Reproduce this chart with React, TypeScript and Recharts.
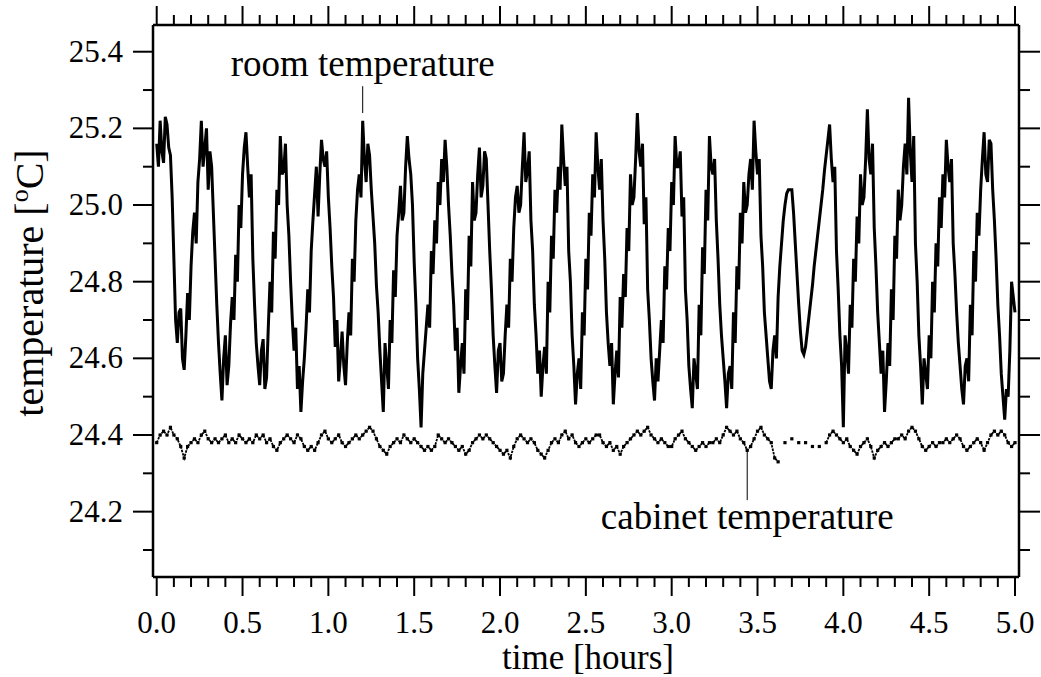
import React from 'react';
import { LineChart, Line, XAxis, YAxis, ReferenceLine, ReferenceDot } from 'recharts';

const SERIF = "'Liberation Serif', 'Times New Roman', Times, serif";

// sampling intervals of the two records, hours
const ROOM_STEP = 0.01;
const CABINET_STEP = 0.02;

// room temperature [°C], one value every 0.01 h (ten values per line)
const ROOM = [
  25.16, 25.10, 25.22, 25.14, 25.11, 25.23, 25.21, 25.15, 25.13, 25.02,
  24.86, 24.70, 24.64, 24.72, 24.73, 24.60, 24.57, 24.66, 24.77, 24.70,
  24.84, 24.93, 24.98, 24.90, 25.06, 25.12, 25.22, 25.10, 25.15, 25.20,
  25.04, 25.14, 25.10, 24.98, 24.86, 24.74, 24.64, 24.56, 24.49, 24.60,
  24.66, 24.53, 24.58, 24.69, 24.76, 24.70, 24.87, 24.80, 25.00, 24.94,
  25.08, 25.15, 25.19, 25.10, 25.02, 25.08, 24.86, 24.74, 24.64, 24.58,
  24.53, 24.62, 24.65, 24.52, 24.55, 24.68, 24.80, 24.72, 24.93, 24.86,
  25.04, 25.00, 25.18, 25.08, 25.09, 25.16, 25.00, 24.92, 24.80, 24.70,
  24.62, 24.68, 24.52, 24.58, 24.46, 24.54, 24.60, 24.68, 24.78, 24.72,
  24.88, 24.96, 25.03, 25.10, 24.97, 25.08, 25.17, 25.12, 25.10, 25.14,
  25.02, 24.94, 24.84, 24.76, 24.63, 24.70, 24.54, 24.60, 24.67, 24.58,
  24.53, 24.64, 24.72, 24.66, 24.86, 24.80, 24.96, 25.04, 25.08, 25.02,
  25.22, 25.12, 25.06, 25.16, 25.13, 25.04, 24.97, 24.90, 24.79, 24.72,
  24.62, 24.54, 24.46, 24.64, 24.58, 24.52, 24.70, 24.64, 24.83, 24.76,
  24.92, 24.98, 25.05, 24.96, 24.98, 25.10, 25.18, 25.12, 25.08, 25.00,
  24.85, 24.74, 24.60, 24.52, 24.42, 24.56, 24.62, 24.68, 24.74, 24.68,
  24.88, 24.82, 24.96, 24.90, 25.06, 25.00, 25.12, 25.06, 25.17, 25.10,
  25.00, 24.92, 24.82, 24.74, 24.62, 24.68, 24.51, 24.58, 24.64, 24.56,
  24.78, 24.70, 24.92, 24.84, 25.06, 24.96, 24.98, 25.08, 25.15, 25.02,
  25.05, 25.14, 25.12, 25.00, 24.88, 24.78, 24.66, 24.58, 24.51, 24.62,
  24.64, 24.54, 24.56, 24.66, 24.74, 24.68, 24.86, 24.80, 24.94, 25.02,
  25.05, 24.98, 25.00, 25.10, 25.19, 25.06, 25.09, 25.14, 24.96, 24.88,
  24.74, 24.66, 24.56, 24.62, 24.50, 24.58, 24.63, 24.56, 24.80, 24.72,
  24.92, 24.86, 25.04, 24.98, 25.10, 25.04, 25.21, 25.12, 25.05, 25.10,
  24.88, 24.80, 24.66, 24.58, 24.48, 24.56, 24.60, 24.52, 24.72, 24.66,
  24.86, 24.78, 24.98, 24.92, 25.08, 25.02, 25.19, 25.10, 25.04, 25.12,
  24.96, 24.86, 24.72, 24.64, 24.58, 24.64, 24.48, 24.56, 24.62, 24.55,
  24.76, 24.68, 24.82, 24.76, 24.94, 24.88, 25.08, 25.00, 25.02, 25.12,
  25.24, 25.14, 25.10, 25.16, 24.95, 25.02, 24.78, 24.70, 24.60, 24.54,
  24.49, 24.60, 24.54, 24.62, 24.70, 24.64, 24.84, 24.78, 24.94, 24.88,
  25.06, 25.00, 25.18, 25.10, 25.10, 25.14, 24.97, 25.02, 24.78, 24.70,
  24.58, 24.52, 24.47, 24.60, 24.56, 24.52, 24.74, 24.66, 24.89, 24.82,
  25.04, 24.96, 25.18, 25.10, 25.08, 25.12, 24.96, 24.86, 24.74, 24.66,
  24.60, 24.54, 24.47, 24.56, 24.58, 24.52, 24.72, 24.64, 24.84, 24.78,
  24.98, 24.90, 25.06, 24.98, 25.00, 25.08, 25.12, 25.04, 25.22, 25.14,
  25.08, 25.12, 24.92, 24.84, 24.72, 24.66, 24.60, 24.54, 24.52, 24.62,
  24.66, 24.60, 24.76, 24.84, 24.90, 24.96, 25.00, 25.03, 25.04, 25.04,
  25.04, 24.98, 24.90, 24.82, 24.74, 24.67, 24.62, 24.61, 24.63, 24.67,
  24.71, 24.75, 24.79, 24.84, 24.88, 24.92, 24.96, 25.00, 25.04, 25.09,
  25.13, 25.17, 25.21, 25.12, 25.06, 25.10, 24.88, 24.78, 24.66, 24.58,
  24.42, 24.66, 24.62, 24.56, 24.74, 24.68, 24.86, 24.80, 24.97, 24.90,
  25.08, 25.00, 25.02, 25.12, 25.25, 25.12, 25.08, 25.16, 24.94, 24.84,
  24.72, 24.64, 24.56, 24.62, 24.46, 24.54, 24.64, 24.58, 24.78, 24.70,
  24.92, 24.86, 25.04, 24.96, 25.00, 25.10, 25.16, 25.08, 25.28, 25.14,
  25.06, 25.18, 24.90, 24.80, 24.66, 24.58, 24.48, 24.60, 24.56, 24.52,
  24.66, 24.60, 24.80, 24.72, 24.90, 24.84, 25.02, 24.94, 25.08, 25.02,
  25.17, 25.10, 25.06, 25.12, 24.90, 24.82, 24.72, 24.64, 24.58, 24.52,
  24.48, 24.58, 24.60, 24.54, 24.74, 24.66, 24.88, 24.80, 24.98, 24.92,
  25.04, 25.12, 25.19, 25.08, 25.06, 25.17, 25.16, 25.04, 24.96, 24.86,
  24.74, 24.66, 24.56, 24.50, 24.44, 24.52, 24.50, 24.62, 24.80, 24.76,
  24.72,
];

// cabinet temperature [°C], one value every 0.02 h; sparse readings around 3.65-3.9 h
const CABINET = [
  24.38, 24.40, 24.41, 24.40, 24.42, 24.40, 24.39, 24.37, 24.34, 24.37,
  24.38, 24.39, 24.38, 24.40, 24.41, 24.39, 24.38, 24.39, 24.38, 24.39,
  24.40, 24.38, 24.39, 24.38, 24.40, 24.39, 24.38, 24.39, 24.38, 24.40,
  24.39, 24.40, 24.38, 24.39, 24.37, 24.36, 24.38, 24.39, 24.40, 24.39,
  24.38, 24.40, 24.39, 24.37, 24.36, 24.37, 24.36, 24.38, 24.40, 24.41,
  24.39, 24.38, 24.39, 24.40, 24.38, 24.37, 24.38, 24.39, 24.40, 24.39,
  24.40, 24.41, 24.42, 24.41, 24.39, 24.37, 24.36, 24.35, 24.37, 24.38,
  24.39, 24.38, 24.40, 24.39, 24.38, 24.39, 24.38, 24.37, 24.36, 24.37,
  24.36, 24.37, 24.40, 24.39, 24.38, 24.39, 24.38, 24.37, 24.36, 24.37,
  24.35, 24.36, 24.38, 24.39, 24.40, 24.39, 24.40, 24.39, 24.38, 24.37,
  24.36, 24.35, 24.36, 24.34, 24.37, 24.39, 24.40, 24.39, 24.38, 24.39,
  24.38, 24.36, 24.35, 24.34, 24.36, 24.38, 24.39, 24.38, 24.40, 24.41,
  24.39, 24.40, 24.38, 24.37, 24.38, 24.39, 24.38, 24.39, 24.40, 24.40,
  24.38, 24.37, 24.38, 24.36, 24.37, 24.35, 24.37, 24.38, 24.39, 24.40,
  24.41, 24.40, 24.41, 24.42, 24.40, 24.39, 24.38, 24.39, 24.38, 24.37,
  24.37, 24.39, 24.40, 24.41, 24.39, 24.38, 24.37, 24.36, 24.37, 24.38,
  24.37, 24.38, 24.38, 24.39, 24.38, 24.40, 24.42, 24.41, 24.40, 24.41,
  24.39, 24.38, 24.36, 24.37, 24.39, 24.41, 24.42, 24.40, 24.39, 24.38,
  24.34, 24.33, null, 24.38, null, 24.39, null, 24.38, null, 24.38,
  null, 24.37, null, 24.37, null, 24.38, 24.40, 24.41, 24.40, 24.39,
  24.38, 24.39, 24.37, 24.36, 24.35, 24.37, 24.38, 24.39, 24.37, 24.34,
  24.36, 24.37, 24.38, 24.37, 24.38, 24.39, 24.39, 24.40, 24.39, 24.41,
  24.42, 24.41, 24.39, 24.37, 24.36, 24.37, 24.38, 24.37, 24.38, 24.38,
  24.39, 24.38, 24.39, 24.40, 24.39, 24.37, 24.36, 24.37, 24.38, 24.39,
  24.38, 24.36, 24.38, 24.40, 24.41, 24.40, 24.41, 24.40, 24.38, 24.37,
  24.38,
];

const X_TICKS = [
  0, 0.1, 0.2, 0.3, 0.4, 0.5, 0.6, 0.7, 0.8, 0.9,
  1.0, 1.1, 1.2, 1.3, 1.4, 1.5, 1.6, 1.7, 1.8, 1.9,
  2.0, 2.1, 2.2, 2.3, 2.4, 2.5, 2.6, 2.7, 2.8, 2.9,
  3.0, 3.1, 3.2, 3.3, 3.4, 3.5, 3.6, 3.7, 3.8, 3.9,
  4.0, 4.1, 4.2, 4.3, 4.4, 4.5, 4.6, 4.7, 4.8, 4.9, 5.0,
];
const Y_TICKS = [24.1, 24.2, 24.3, 24.4, 24.5, 24.6, 24.7, 24.8, 24.9, 25.0, 25.1, 25.2, 25.3, 25.4];

const X_DOMAIN = [-0.0216, 5.0233];
const Y_DOMAIN = [24.0295, 25.4697];

const roomData = ROOM.map((room, i) => ({ time: i * ROOM_STEP, room }));
const cabinetData = CABINET.map((cabinet, i) => ({ time: i * CABINET_STEP, cabinet }));

const isMajor = (v: number, every: number) => Math.abs(v / every - Math.round(v / every)) < 1e-6;

const tickLine = { stroke: '#000', strokeWidth: 2 };
const frame = { stroke: '#000', strokeWidth: 2.5 };

const BottomTick = (props: any) => {
  const { x, y, payload } = props;
  const major = isMajor(payload.value, 0.5);
  return (
    <g>
      <line x1={x} y1={y} x2={x} y2={y + (major ? 19 : 10)} {...tickLine} />
      {major && (
        <text x={x} y={y + 56} textAnchor="middle" fontSize={31} fontFamily={SERIF} fill="#000">
          {Number(payload.value).toFixed(1)}
        </text>
      )}
    </g>
  );
};

const TopTick = (props: any) => {
  const { x, y, payload } = props;
  const major = isMajor(payload.value, 0.5);
  return <line x1={x} y1={y} x2={x} y2={y - (major ? 19 : 10)} {...tickLine} />;
};

const LeftTick = (props: any) => {
  const { x, y, payload } = props;
  const major = isMajor(payload.value, 0.2);
  return (
    <g>
      <line x1={x} y1={y} x2={x - (major ? 20 : 10)} y2={y} {...tickLine} />
      {major && (
        <text x={x - 30} y={y + 10} textAnchor="end" fontSize={31} fontFamily={SERIF} fill="#000">
          {Number(payload.value).toFixed(1)}
        </text>
      )}
    </g>
  );
};

const RightTick = (props: any) => {
  const { x, y, payload } = props;
  const major = isMajor(payload.value, 0.2);
  return <line x1={x} y1={y} x2={x + (major ? 21 : 11)} y2={y} {...tickLine} />;
};

const XTitle = (props: any) => {
  const vb = props.viewBox || { x: 153, y: 577, width: 866, height: 99 };
  return (
    <text x={vb.x + vb.width / 2 + 2} y={vb.y + 92} textAnchor="middle" fontSize={35} fontFamily={SERIF} fill="#000">
      time [hours]
    </text>
  );
};

const YTitle = (props: any) => {
  const vb = props.viewBox || { x: 0, y: 25, width: 153, height: 552 };
  const cx = 43;
  const cy = vb.y + vb.height / 2 - 18;
  return (
    <text
      x={cx}
      y={cy}
      transform={`rotate(-90, ${cx}, ${cy})`}
      textAnchor="middle"
      fontSize={40}
      fontFamily={SERIF}
      fill="#000"
    >
      temperature [<tspan dy={-15} fontSize={26}>o</tspan>
      <tspan dy={15}>C]</tspan>
    </text>
  );
};

const note = (label: string) => (props: any) => (
  <text x={props.cx} y={props.cy} textAnchor="middle" fontSize={37} fontFamily={SERIF} fill="#000">
    {label}
  </text>
);

const CabinetDot = (props: any) => {
  const { cx, cy, index, value } = props;
  if (value == null || !Number.isFinite(cx) || !Number.isFinite(cy)) return <g key={`cd-${index}`} />;
  return <rect key={`cd-${index}`} x={cx - 1.6} y={cy - 1.6} width={3.2} height={3.2} fill="#000" />;
};

export default function App() {
  return (
    <div style={{ position: 'absolute', left: 0, top: 0, background: '#fff' }}>
      <LineChart width={1040} height={676} margin={{ top: 0, right: 0, bottom: 0, left: 0 }}>
        <XAxis
          xAxisId="b"
          dataKey="time"
          type="number"
          domain={X_DOMAIN}
          allowDataOverflow
          ticks={X_TICKS}
          interval={0}
          height={99}
          tickSize={0}
          tickMargin={0}
          tickLine={false}
          axisLine={frame}
          tick={<BottomTick />}
          label={XTitle}
        />
        <XAxis
          xAxisId="t"
          orientation="top"
          dataKey="time"
          type="number"
          domain={X_DOMAIN}
          allowDataOverflow
          ticks={X_TICKS}
          interval={0}
          height={25}
          tickSize={0}
          tickMargin={0}
          tickLine={false}
          axisLine={frame}
          tick={<TopTick />}
        />
        <YAxis
          yAxisId="l"
          type="number"
          domain={Y_DOMAIN}
          allowDataOverflow
          ticks={Y_TICKS}
          interval={0}
          width={153}
          tickSize={0}
          tickMargin={0}
          tickLine={false}
          axisLine={frame}
          tick={<LeftTick />}
          label={YTitle}
        />
        <YAxis
          yAxisId="r"
          orientation="right"
          type="number"
          domain={Y_DOMAIN}
          allowDataOverflow
          ticks={Y_TICKS}
          interval={0}
          width={21}
          tickSize={0}
          tickMargin={0}
          tickLine={false}
          axisLine={frame}
          tick={<RightTick />}
        />
        <Line
          data={roomData}
          xAxisId="b"
          yAxisId="l"
          dataKey="room"
          type="linear"
          stroke="#000"
          strokeWidth={3}
          dot={false}
          activeDot={false}
          isAnimationActive={false}
        />
        <Line
          data={cabinetData}
          xAxisId="t"
          yAxisId="r"
          dataKey="cabinet"
          type="linear"
          stroke="#000"
          strokeWidth={1.8}
          strokeDasharray="2.5 1"
          dot={CabinetDot}
          activeDot={false}
          isAnimationActive={false}
        />
        <ReferenceLine
          xAxisId="b"
          yAxisId="l"
          segment={[{ x: 1.2, y: 25.31 }, { x: 1.2, y: 25.24 }]}
          stroke="#000"
          strokeWidth={1}
        />
        <ReferenceLine
          xAxisId="b"
          yAxisId="l"
          segment={[{ x: 3.44, y: 24.36 }, { x: 3.44, y: 24.23 }]}
          stroke="#000"
          strokeWidth={1}
        />
        <ReferenceDot xAxisId="b" yAxisId="l" x={1.2} y={25.337} r={0} shape={note('room temperature')} />
        <ReferenceDot xAxisId="b" yAxisId="l" x={3.44} y={24.155} r={0} shape={note('cabinet temperature')} />
      </LineChart>
    </div>
  );
}
